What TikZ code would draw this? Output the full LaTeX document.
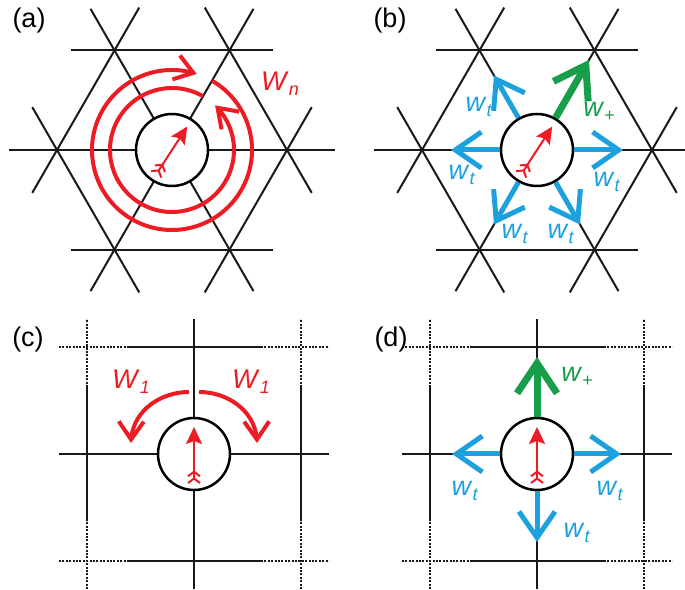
\documentclass[tikz,border=0pt]{standalone}
\usepackage{fontspec}
\setmainfont{Liberation Sans}
\usetikzlibrary{arrows.meta,bending,calc}

\definecolor{spinred}{RGB}{237,28,36}
\definecolor{hopblue}{RGB}{28,160,222}
\definecolor{flipgreen}{RGB}{24,158,74}

% rate symbol with a small italic index
\newcommand{\rate}[2]{\textit{#1}\raisebox{-5pt}{\fontsize{18}{18}\selectfont\textit{#2}}}

\tikzset{
  bond/.style={line width=2pt, black!90},
  dotbond/.style={bond, line width=2.6pt, dash pattern=on 2pt off 1.4pt},
  sitecircle/.style={circle, draw, line width=2.5pt, fill=white, minimum size=72pt, inner sep=0pt},
  spinarrow/.style={draw=spinred, line width=2pt,
    {Straight Barb[reversed,length=4.5pt,width=12pt,line width=2pt]Straight Barb[reversed,length=4.5pt,width=12pt,line width=2pt]}-{Stealth[length=17pt,width=16pt,inset=3pt]}},
  swirlarrow/.style={draw=spinred, line width=4pt, -{Straight Barb[length=18pt,width=25pt,flex]}},
  hoparrow/.style={draw=hopblue, line width=5pt, -{Straight Barb[length=26pt,width=36pt]}},
  fliparrow/.style={draw=flipgreen, line width=7pt, -{Straight Barb[length=30pt,width=40pt]}},
  panellabel/.style={font=\fontsize{27}{30}\selectfont, inner sep=0pt},
  ratelabel/.style={font=\fontsize{27}{30}\selectfont, inner sep=0pt}
}

\begin{document}
\begin{tikzpicture}[x=1pt,y=1pt]
  % Parameters
  \def\trirow{99.6} % distance between parallel lines (triangular)
  \def\trilong{163} % half length of the lines through the site
  \def\sqstep{107} % lattice spacing (square)
  \def\sqlong{135} % half length of the square lattice lines
  \def\sqsolid{67} % half length of the solid part of the outer lines

  \useasboundingbox (0,0) rectangle (685,589);

  % Triangular lattices, panels (a) and (b)
  \foreach \cx in {172,537} {
    \begin{scope}[shift={(\cx,439)}]
      \foreach \ang/\half in {0/101,60/107,120/107} {
        \draw[bond, rotate=\ang] (-\trilong,0) -- (\trilong,0);
        \foreach \k in {-1,1} {
          \draw[bond, rotate=\ang] (-\half,\k*\trirow) -- (\half,\k*\trirow);
        }
      }
    \end{scope}
  }

  % Square lattices, panels (c) and (d)
  \foreach \cx in {194,537} {
    \begin{scope}[shift={(\cx,135)}]
      \foreach \r in {0,90} {
        \draw[bond, rotate=\r] (-\sqlong,0) -- (\sqlong,0);
        \foreach \k in {-1,1} {
          \draw[bond, rotate=\r] (-\sqsolid,\k*\sqstep) -- (\sqsolid,\k*\sqstep);
          \draw[dotbond, rotate=\r] (-\sqlong,\k*\sqstep) -- (-\sqsolid,\k*\sqstep);
          \draw[dotbond, rotate=\r] (\sqsolid,\k*\sqstep) -- (\sqlong,\k*\sqstep);
        }
      }
    \end{scope}
  }

  % Sites
  \node[sitecircle] (siteA) at (172,439) {};
  \node[sitecircle] (siteB) at (537,439) {};
  \node[sitecircle] (siteC) at (194,135) {};
  \node[sitecircle] (siteD) at (537,135) {};

  % Panel labels
  \node[panellabel] (labA) at (29,568) {(a)};
  \node[panellabel] (labB) at (390,568) {(b)};
  \node[panellabel] (labC) at (28,249) {(c)};
  \node[panellabel] (labD) at (391,249) {(d)};

  % (a) spin and the two swirls
  \coordinate (tailA) at ($(siteA)+(237:30)$);
  \coordinate (headA) at ($(siteA)+(57:28)$);
  \draw[spinarrow] (tailA) -- (headA);
  \coordinate (outerA) at ($(siteA)+(60:80)$);
  \coordinate (innerA) at ($(siteA)+(60:62)$);
  \draw[swirlarrow] (outerA) arc[start angle=60, end angle=-288, radius=80];
  \draw[swirlarrow] (innerA) arc[start angle=60, end angle=406, radius=62];
  \node[ratelabel, text=spinred] (rateA) at (280,505) {\rate{W}{n}};

  % (b) spin, hops and flip
  \coordinate (tailB) at ($(siteB)+(237:30)$);
  \coordinate (headB) at ($(siteB)+(57:28)$);
  \foreach \ang in {0,120,180,240,300} {
    \coordinate (hopB\ang) at ($(siteB)+(\ang:86)$);
    \draw[hoparrow] (siteB.\ang) -- (hopB\ang);
  }
  \coordinate (flipB) at ($(siteB)+(60:104)$);
  \draw[fliparrow] (siteB.60) -- (flipB);
  \draw[spinarrow] (tailB) -- (headB);
  \foreach \dx/\dy/\i in {-58/43/1,-75/-25/2,70/-32/3,-22/-84/4,24/-84/5} {
    \node[ratelabel, text=hopblue] (rateB\i) at ($(siteB)+(\dx,\dy)$) {\rate{w}{t}};
  }
  \node[ratelabel, text=flipgreen] (rateB6) at ($(siteB)+(62,38)$) {\rate{w}{+}};

  % (c) spin and the two exchanges
  \coordinate (tailC) at ($(siteC)+(0,-30)$);
  \coordinate (headC) at ($(siteC)+(0,27)$);
  \draw[spinarrow] (tailC) -- (headC);
  \coordinate (swapL) at ($(siteC)+(-5,62)$);
  \coordinate (swapLend) at ($(siteC)+(-63,11)$);
  \coordinate (swapR) at ($(siteC)+(5,62)$);
  \coordinate (swapRend) at ($(siteC)+(63,11)$);
  \draw[swirlarrow] (swapL) to[out=180,in=90] (swapLend);
  \draw[swirlarrow] (swapR) to[out=0,in=90] (swapRend);
  \node[ratelabel, text=spinred] (rateC1) at ($(siteC)+(-63,72)$) {\rate{W}{1}};
  \node[ratelabel, text=spinred] (rateC2) at ($(siteC)+(57,72)$) {\rate{W}{1}};

  % (d) spin, hops and flip
  \coordinate (tailD) at ($(siteD)+(0,-30)$);
  \coordinate (headD) at ($(siteD)+(0,27)$);
  \foreach \ang/\len in {0/84,180/85,270/88} {
    \coordinate (hopD\ang) at ($(siteD)+(\ang:\len)$);
    \draw[hoparrow] (siteD.\ang) -- (hopD\ang);
  }
  \coordinate (flipD) at ($(siteD)+(90:97)$);
  \draw[fliparrow] (siteD.90) -- (flipD);
  \draw[spinarrow] (tailD) -- (headD);
  \node[ratelabel, text=flipgreen] (rateD1) at ($(siteD)+(40,77)$) {\rate{w}{+}};
  \node[ratelabel, text=hopblue] (rateD2) at ($(siteD)+(-72,-37)$) {\rate{w}{t}};
  \node[ratelabel, text=hopblue] (rateD3) at ($(siteD)+(73,-37)$) {\rate{w}{t}};
  \node[ratelabel, text=hopblue] (rateD4) at ($(siteD)+(40,-79)$) {\rate{w}{t}};
\end{tikzpicture}
\end{document}
